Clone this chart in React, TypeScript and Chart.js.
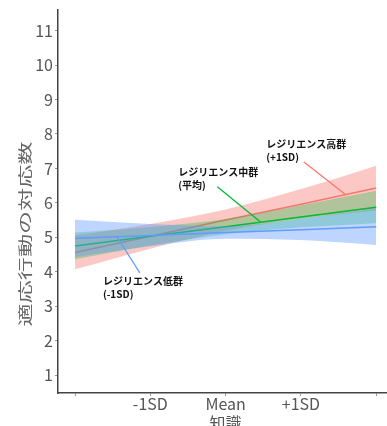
import React, { useEffect, useRef } from 'react';
import { Chart, registerables } from 'chart.js';

Chart.register(...registerables);

// ---- data ----
const X_VALUES = [-2, -1, 0, 1, 2];
const X_TICK_LABELS = ['', '-1SD', 'Mean', '+1SD', ''];
const Y_TICKS = [1, 2, 3, 4, 5, 6, 7, 8, 9, 10, 11];

const X_TITLE = '知識';
const Y_TITLE = '適応行動の対応数';

// High resilience (+1SD)
const HIGH_FIT = [4.56, 5.03, 5.5, 5.96, 6.43];
const HIGH_LOWER = [4.07, 4.67, 5.19, 5.54, 5.78];
const HIGH_UPPER = [5.05, 5.39, 5.81, 6.4, 7.08];

// Middle resilience (mean)
const MID_FIT = [4.75, 5.03, 5.31, 5.59, 5.87];
const MID_LOWER = [4.36, 4.76, 5.09, 5.29, 5.41];
const MID_UPPER = [5.14, 5.3, 5.53, 5.93, 6.35];

// Low resilience (-1SD)
const LOW_FIT = [4.97, 5.05, 5.14, 5.22, 5.31];
const LOW_LOWER = [4.43, 4.74, 4.96, 4.92, 4.78];
const LOW_UPPER = [5.51, 5.39, 5.32, 5.54, 5.84];

const RED = '#F8766D';
const GREEN = '#00BA38';
const BLUE = '#619CFF';

const ANNOTATION_TEXT = [
  ['レジリエンス高群', '(+1SD)'],
  ['レジリエンス中群', '(平均)'],
  ['レジリエンス低群', '(-1SD)'],
];
const ANNOTATION_COLOR = [RED, GREEN, BLUE];
// [textX, textY, lineFromX, lineFromY, lineToX, lineToY] in data units
const ANNOTATION_POS = [
  [0.54, 7.69, 1.04, 7.19, 1.6, 6.23],
  [-0.63, 6.9, -0.11, 6.47, 0.46, 5.45],
  [-1.63, 3.73, -1.44, 5.01, -1.14, 3.97],
];

const toPts = (ys: number[]) => X_VALUES.map((x, i) => ({ x, y: ys[i] }));

const JP_FONT = '"Noto Sans CJK JP", "Noto Sans", sans-serif';

const annotationPlugin = {
  id: 'annotations',
  afterDatasetsDraw(chart: any) {
    const { ctx, scales } = chart;
    const xs = scales.x;
    const ys = scales.y;
    ctx.save();
    ANNOTATION_POS.forEach((p, i) => {
      ctx.strokeStyle = ANNOTATION_COLOR[i];
      ctx.lineWidth = 1.3;
      ctx.beginPath();
      ctx.moveTo(xs.getPixelForValue(p[2]), ys.getPixelForValue(p[3]));
      ctx.lineTo(xs.getPixelForValue(p[4]), ys.getPixelForValue(p[5]));
      ctx.stroke();
      ctx.fillStyle = '#111';
      ctx.font = `bold 10px ${JP_FONT}`;
      ctx.textAlign = 'left';
      ctx.textBaseline = 'middle';
      const tx = xs.getPixelForValue(p[0]);
      const ty = ys.getPixelForValue(p[1]);
      ANNOTATION_TEXT[i].forEach((line, j) => {
        ctx.fillText(line, tx, ty + j * 13);
      });
    });
    ctx.restore();
  },
  afterDraw(chart: any) {
    const { ctx, scales, chartArea } = chart;
    ctx.save();
    ctx.fillStyle = '#555';
    ctx.textAlign = 'center';
    ctx.textBaseline = 'middle';
    // x title
    ctx.font = `16px ${JP_FONT}`;
    ctx.fillText(X_TITLE, scales.x.getPixelForValue(0), chartArea.bottom + 30);
    // y title (stretched along its direction)
    ctx.fillStyle = '#666';
    ctx.translate(25, 234);
    ctx.rotate(-Math.PI / 2);
    ctx.scale(1.65, 1);
    ctx.font = `14px ${JP_FONT}`;
    ctx.fillText(Y_TITLE, 0, 0);
    ctx.restore();
  },
};

function ribbon(upper: number[], lower: number[], color: string, upperOrder: number, lowerIndex: number) {
  return [
    {
      label: 'upper',
      data: toPts(upper),
      borderWidth: 0,
      pointRadius: 0,
      backgroundColor: color,
      fill: lowerIndex,
      cubicInterpolationMode: 'monotone',
      order: upperOrder,
    },
    {
      label: 'lower',
      data: toPts(lower),
      borderWidth: 0,
      pointRadius: 0,
      fill: false,
      cubicInterpolationMode: 'monotone',
      order: upperOrder + 0.5,
    },
  ];
}

function line(ys: number[], color: string, order: number) {
  return {
    label: 'fit',
    data: toPts(ys),
    borderColor: color,
    borderWidth: 1.5,
    pointRadius: 0,
    fill: false,
    tension: 0,
    order,
  };
}

export default function App() {
  const ref = useRef<HTMLCanvasElement | null>(null);

  useEffect(() => {
    if (!ref.current) return;
    const datasets: any[] = [
      ...ribbon(HIGH_UPPER, HIGH_LOWER, 'rgba(248,118,109,0.4)', 6, 1),
      line(HIGH_FIT, RED, 5),
      ...ribbon(MID_UPPER, MID_LOWER, 'rgba(0,186,56,0.3)', 4, 4),
      line(MID_FIT, GREEN, 3),
      ...ribbon(LOW_UPPER, LOW_LOWER, 'rgba(97,156,255,0.42)', 2, 7),
      line(LOW_FIT, BLUE, 1),
    ];

    const chart = new Chart(ref.current, {
      type: 'line',
      data: { datasets },
      plugins: [annotationPlugin],
      options: {
        animation: false,
        responsive: true,
        maintainAspectRatio: false,
        layout: { padding: { top: 10, right: 1, bottom: 0, left: 0 } },
        plugins: {
          legend: { display: false },
          tooltip: { enabled: false },
          filler: { propagate: false },
        },
        scales: {
          x: {
            type: 'linear',
            min: -2.226,
            max: 2.13,
            afterBuildTicks: (s: any) => {
              s.ticks = X_VALUES.map((v) => ({ value: v }));
            },
            afterFit: (s: any) => {
              s.height = 33;
            },
            ticks: {
              autoSkip: false,
              maxRotation: 0,
              padding: 0,
              color: '#555',
              font: { family: JP_FONT, size: 16, lineHeight: 1 },
              callback: (v: any) => X_TICK_LABELS[X_VALUES.indexOf(Number(v))] ?? '',
            },
            grid: { display: true, drawOnChartArea: false, drawTicks: true, tickLength: 3, color: '#999' },
            border: { display: true, color: '#444', width: 1.5 },
          },
          y: {
            type: 'linear',
            min: 0.48,
            max: 11.6,
            afterBuildTicks: (s: any) => {
              s.ticks = Y_TICKS.map((v) => ({ value: v }));
            },
            afterFit: (s: any) => {
              s.width = 58;
            },
            ticks: {
              padding: 2,
              color: '#555',
              font: { family: JP_FONT, size: 16, lineHeight: 1 },
            },
            grid: { display: true, drawOnChartArea: false, drawTicks: true, tickLength: 3, color: '#999' },
            border: { display: true, color: '#444', width: 1.5 },
          },
        },
      } as any,
    });
    return () => chart.destroy();
  }, []);

  return (
    <div style={{ position: 'fixed', left: 0, top: 0, width: 387, height: 426, background: '#fff' }}>
      <canvas ref={ref} />
    </div>
  );
}
